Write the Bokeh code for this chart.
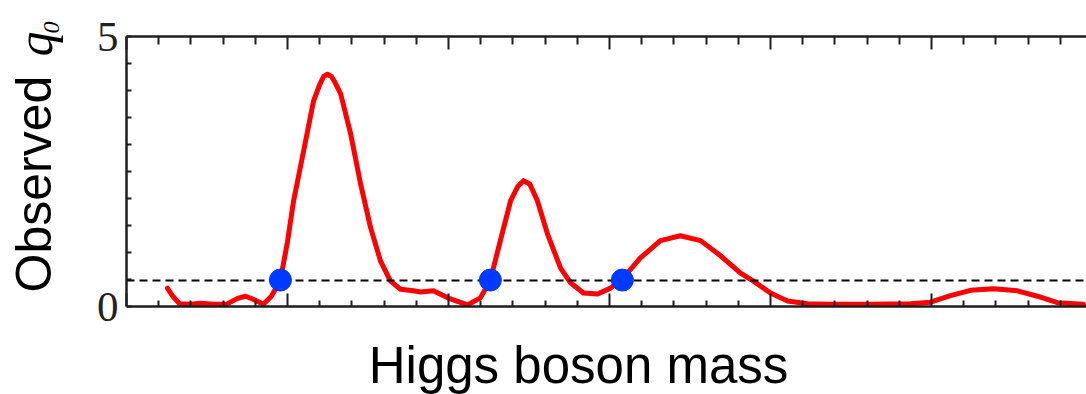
from bokeh.plotting import figure
from bokeh.models import FixedTicker, LinearAxis, Range1d
from bokeh.layouts import row, column
from bokeh.core.properties import value
from bokeh.embed import file_html
from bokeh.resources import INLINE
import math

# ---- data ----
mass = [111.27, 111.45, 111.65, 112.0, 112.3, 112.7, 113.1, 113.45, 113.7, 113.95, 114.25,
        114.5, 114.78, 115.0, 115.19, 115.5, 115.81, 116.0, 116.12, 116.24, 116.36, 116.45,
        116.65, 116.96, 117.27, 117.58, 117.89, 118.2, 118.51, 118.91, 119.13, 119.53,
        120.06, 120.59, 120.99, 121.3, 121.61, 121.93, 122.15, 122.33, 122.52, 122.76,
        123.07, 123.48, 123.79, 124.19, 124.63, 125.03, 125.4, 125.96, 126.58, 127.2,
        127.83, 128.45, 129.07, 129.47, 130.0, 130.53, 131.15, 131.86, 133.11, 134.35,
        134.97, 135.59, 136.21, 136.93, 137.67, 138.29, 138.91, 139.72]
q0 = [0.34, 0.18, 0.05, 0.04, 0.06, 0.04, 0.04, 0.15, 0.19, 0.13, 0.04,
      0.19, 0.49, 1.2, 1.96, 2.88, 3.81, 4.11, 4.26, 4.30, 4.26, 4.18,
      3.94, 3.20, 2.27, 1.46, 0.84, 0.47, 0.32, 0.29, 0.27, 0.29,
      0.14, 0.03, 0.16, 0.49, 1.22, 1.96, 2.22, 2.33, 2.27, 1.96,
      1.35, 0.71, 0.44, 0.25, 0.23, 0.34, 0.51, 0.90, 1.22, 1.31,
      1.22, 0.94, 0.62, 0.47, 0.25, 0.10, 0.05, 0.04, 0.04, 0.05,
      0.08, 0.20, 0.30, 0.33, 0.29, 0.19, 0.07, 0.04]
crossing_mass = [114.78, 121.30, 125.40]
threshold = 0.49
y_tick_labels = {0: "0", 5: "5"}
x_major = [110, 115, 120, 125, 130, 135]
x_minor = [m for m in range(110, 140) if m % 5 != 0]
y_minor = [0.5 * i for i in range(1, 10)]
x_label = "Higgs boson mass"
y_label = "Observed"
y_symbol = "q"
y_subscript = "0"

W, H = 1086, 394
TOP_H = 330            # height of the row holding the plot
SIDE_W = 70
MAIN_W = W - SIDE_W
X0, X1 = 110, 110 + 960 / 32.2

SANS_MID = 0.3465      # baseline -> middle offset (em) of Liberation Sans
SERIF_MID = 0.3375     # same for Liberation Serif


def blank(width, height):
    f = figure(width=width, height=height, output_backend="svg", toolbar_location=None,
               title=None, x_range=Range1d(0, width), y_range=Range1d(0, height),
               min_border=0, x_axis_location=None, y_axis_location=None)
    f.outline_line_color = None
    f.xgrid.grid_line_color = None
    f.ygrid.grid_line_color = None
    f.frame_align = False
    return f

# ---- side strip carrying the vertical axis title ----
side = blank(SIDE_W, TOP_H)
side.text(x=[51 - SANS_MID * 50], y=[TOP_H - 292], text=[y_label], angle=math.pi / 2,
          text_font=value("Liberation Sans"), text_font_size="50px",
          text_align="left", text_baseline="middle", text_color="black")
side.text(x=[51 - SERIF_MID * 50], y=[TOP_H - 56], text=[y_symbol], angle=math.pi / 2,
          text_font=value("Liberation Serif"), text_font_style="italic",
          text_font_size="50px", text_align="left", text_baseline="middle",
          text_color="black")
side.text(x=[59 - SERIF_MID * 24], y=[TOP_H - 33], text=[y_subscript], angle=math.pi / 2,
          text_font=value("Liberation Serif"), text_font_style="italic",
          text_font_size="24px", text_align="left", text_baseline="middle",
          text_color="black")

# ---- bottom strip carrying the horizontal axis title ----
bottom = blank(W, H - TOP_H)
bottom.text(x=[578], y=[H - 383 + SANS_MID * 51], text=[x_label],
            text_font=value("Liberation Sans"), text_font_size="51px",
            text_align="center", text_baseline="middle", text_color="black")

# ---- main plot ----
p = figure(width=MAIN_W, height=TOP_H, output_backend="svg", toolbar_location=None,
           title=None, x_range=Range1d(X0, X1), y_range=Range1d(0, 5),
           min_border_left=126 - SIDE_W, min_border_right=0, min_border_top=36,
           min_border_bottom=TOP_H - 306,
           x_axis_location=None, y_axis_location=None)
p.outline_line_color = None
p.xgrid.grid_line_color = None
p.ygrid.grid_line_color = None
p.frame_align = False

axis_col = "#1e1e1e"

def style_x(ax, minor_in):
    ax.ticker = FixedTicker(ticks=x_major, minor_ticks=x_minor)
    ax.major_label_overrides = {t: "" for t in x_major}
    ax.major_label_text_font_size = "8px"
    ax.major_tick_in = 13
    ax.major_tick_out = 0
    ax.minor_tick_in = minor_in
    ax.minor_tick_out = 0
    ax.axis_line_width = 2.5
    ax.axis_line_color = axis_col
    ax.major_tick_line_width = 2
    ax.minor_tick_line_width = 2
    ax.major_tick_line_color = axis_col
    ax.minor_tick_line_color = axis_col
    ax.major_label_standoff = 0

below = LinearAxis()
style_x(below, 6)
p.add_layout(below, "below")
above = LinearAxis()
style_x(above, 8)
p.add_layout(above, "above")

left = LinearAxis()
left.ticker = FixedTicker(ticks=list(y_tick_labels.keys()), minor_ticks=y_minor)
left.major_label_overrides = y_tick_labels
left.major_tick_in = 5
left.major_tick_out = 0
left.minor_tick_in = 5
left.minor_tick_out = 0
left.axis_line_width = 2.5
left.axis_line_color = axis_col
left.major_tick_line_width = 2
left.minor_tick_line_width = 2
left.major_tick_line_color = axis_col
left.minor_tick_line_color = axis_col
left.major_label_text_font = "Liberation Serif"
left.major_label_text_font_size = "43px"
left.major_label_text_color = "#222222"
left.major_label_standoff = 8
p.add_layout(left, "left")

# curve, threshold, crossings
p.line(mass, q0, line_color="#ff0000", line_width=5, line_join="round", line_cap="round")
p.hspan(y=[threshold], line_color="black", line_width=2, line_dash="8 5")
p.scatter(crossing_mass, [threshold] * len(crossing_mass), size=22,
          fill_color="#0039ff", line_color="#0039ff")

layout = column(row(side, p, spacing=0), bottom, spacing=0)
open("out.html", "w").write(file_html(layout, INLINE))
